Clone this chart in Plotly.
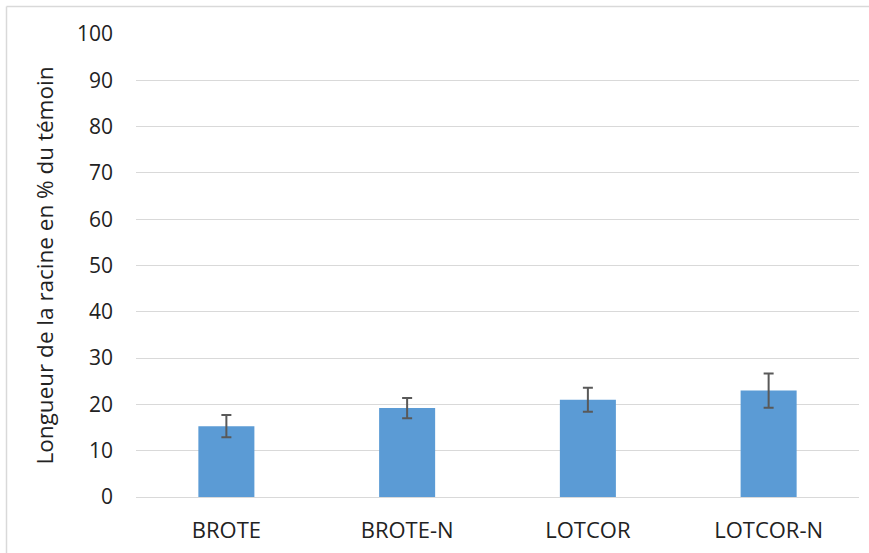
import plotly.graph_objects as go

categories = ["BROTE", "BROTE-N", "LOTCOR", "LOTCOR-N"]
values = [15.3, 19.2, 21.0, 23.0]
errors = [2.4, 2.2, 2.6, 3.7]
y_ticks = [0, 10, 20, 30, 40, 50, 60, 70, 80, 90, 100]

W, H = 869, 553
L, R, T, B = 136, 10, 34, 56
pw, ph = W - L - R, H - T - B

fig = go.Figure(go.Bar(
    x=categories, y=values, width=0.31,
    marker=dict(color="#5b9bd5", line=dict(width=0)),
    error_y=dict(type="data", array=errors, visible=True,
                 color="#595959", thickness=2, width=5),
))

tick_font = dict(family="Open Sans, sans-serif", size=21, color="#222222")
cat_font = dict(family="Open Sans, sans-serif", size=22, color="#222222")

fig.update_layout(
    width=W, height=H,
    margin=dict(l=L, r=R, t=T, b=B),
    paper_bgcolor="white", plot_bgcolor="white",
    font=tick_font, showlegend=False,
    xaxis=dict(showgrid=False, showline=True, linecolor="#d9d9d9", linewidth=1,
               ticks="", tickfont=cat_font, ticklabelstandoff=14),
    yaxis=dict(range=[0, 100], tickvals=y_ticks, showgrid=True,
               gridcolor="#d9d9d9", gridwidth=1, zeroline=False, showline=False,
               ticks="", tickfont=tick_font, ticklabelstandoff=22,
               title=dict(text="Longueur de la racine en % du témoin",
                          font=dict(family="Open Sans, sans-serif", size=22.5, color="#222222"),
                          standoff=17)),
)

# outer chart border (only top and left visible in the crop)
x0 = (6.5 - L) / pw
y0 = 1 + (T - 6.5) / ph
fig.add_shape(type="line", xref="paper", yref="paper", x0=x0, x1=1 + R / pw + 0.01,
              y0=y0, y1=y0, line=dict(color="#d9d9d9", width=1.5))
fig.add_shape(type="line", xref="paper", yref="paper", x0=x0, x1=x0,
              y0=y0, y1=-B / ph - 0.01, line=dict(color="#d9d9d9", width=1.5))

fig.write_html("out.html", config={"displayModeBar": False},
               post_script="document.body.style.margin='0';")
